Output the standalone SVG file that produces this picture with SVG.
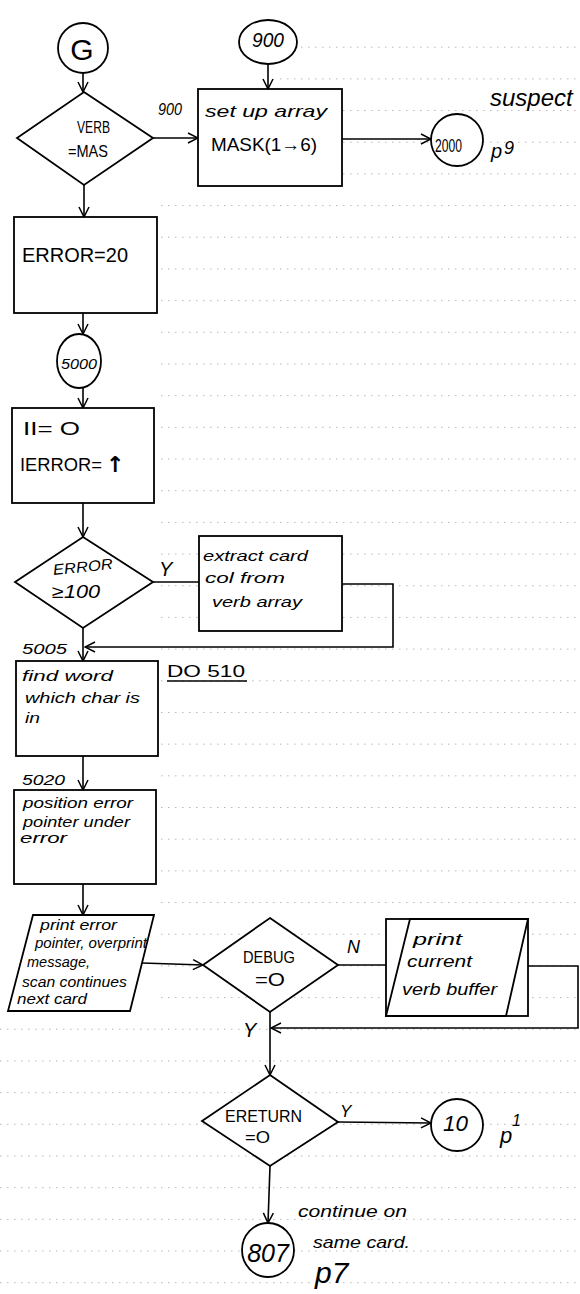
<svg xmlns="http://www.w3.org/2000/svg" width="580" height="1294" viewBox="0 0 580 1294">
<defs>
<style>
.s{fill:#fff;stroke:#000;stroke-width:1.8}
.c{fill:none;stroke:#000;stroke-width:1.6}
.t{font-family:"Liberation Sans","DejaVu Sans",sans-serif;fill:#000}
.h{font-family:"Liberation Sans","DejaVu Sans",sans-serif;font-style:italic;fill:#000}
</style>
<marker id="ah" viewBox="0 0 12 12" refX="11" refY="6" markerWidth="12" markerHeight="12" markerUnits="userSpaceOnUse" orient="auto">
<path d="M1,1 L11,6 L1,11" fill="none" stroke="#000" stroke-width="1.5"/>
</marker>
<pattern id="rule" x="0" y="15" width="7" height="31.68" patternUnits="userSpaceOnUse">
<rect x="0" y="0" width="1.5" height="1" fill="#b8b8b8"/>
</pattern>
</defs>
<rect width="580" height="1294" fill="#fff"/>
<g id="ruling">
<rect x="280" y="40" width="300" height="160" fill="url(#rule)"/>
<rect x="160" y="200" width="420" height="810" fill="url(#rule)"/>
<rect x="0" y="1010" width="580" height="284" fill="url(#rule)"/>
</g>
<g id="connectors">
<line class="c" x1="83" y1="73" x2="83" y2="92" marker-end="url(#ah)"/>
<line class="c" x1="153" y1="138" x2="198" y2="138" marker-end="url(#ah)"/>
<line class="c" x1="268" y1="64" x2="268" y2="89" marker-end="url(#ah)"/>
<line class="c" x1="342" y1="139" x2="431" y2="139" marker-end="url(#ah)"/>
<line class="c" x1="84" y1="185" x2="84" y2="217" marker-end="url(#ah)"/>
<line class="c" x1="83" y1="313" x2="83" y2="334" marker-end="url(#ah)"/>
<line class="c" x1="83" y1="388" x2="83" y2="408" marker-end="url(#ah)"/>
<line class="c" x1="83" y1="503" x2="83" y2="537" marker-end="url(#ah)"/>
<line class="c" x1="153" y1="582" x2="199" y2="582"/>
<polyline class="c" points="342,584 393,584 393,647 85,647" marker-end="url(#ah)"/>
<line class="c" x1="83" y1="628" x2="83" y2="661" marker-end="url(#ah)"/>
<line class="c" x1="83" y1="756" x2="83" y2="790" marker-end="url(#ah)"/>
<line class="c" x1="83" y1="884" x2="83" y2="915" marker-end="url(#ah)"/>
<line class="c" x1="142" y1="963" x2="203" y2="965" marker-end="url(#ah)"/>
<line class="c" x1="338" y1="965" x2="397" y2="965" marker-end="url(#ah)"/>
<polyline class="c" points="528,966 578,966 578,1028 271,1028" marker-end="url(#ah)"/>
<line class="c" x1="270" y1="1012" x2="270" y2="1075" marker-end="url(#ah)"/>
<line class="c" x1="338" y1="1122" x2="431" y2="1123" marker-end="url(#ah)"/>
<line class="c" x1="270" y1="1166" x2="268" y2="1223" marker-end="url(#ah)"/>
</g>
<g id="n_G">
<circle class="s" cx="83" cy="48" r="25"/>
<text class="t" x="82" y="60" font-size="30" text-anchor="middle">G</text>
</g>
<g id="n_900">
<ellipse class="s" cx="268" cy="42" rx="29" ry="22"/>
<text class="h" x="252" y="47" font-size="20" textLength="32" lengthAdjust="spacingAndGlyphs">900</text>
</g>
<g id="n_verb">
<polygon class="s" points="84,92 153,138 84,185 17,138"/>
<text class="t" x="77" y="133" font-size="17" textLength="33" lengthAdjust="spacingAndGlyphs">VERB</text>
<text class="t" x="68" y="157" font-size="17" textLength="40" lengthAdjust="spacingAndGlyphs">=MAS</text>
</g>
<g id="l_900">
<text class="h" x="158" y="115" font-size="16" textLength="24" lengthAdjust="spacingAndGlyphs">900</text>
</g>
<g id="n_setup">
<rect class="s" x="198" y="89" width="144" height="97"/>
<text class="h" x="205" y="117" font-size="17" textLength="122" lengthAdjust="spacingAndGlyphs">set up array</text>
<text class="t" x="211" y="151" font-size="19" textLength="106" lengthAdjust="spacingAndGlyphs">MASK(1→6)</text>
</g>
<g id="n_2000">
<circle class="s" cx="457" cy="140" r="26"/>
<text class="t" x="435" y="152" font-size="19" textLength="27" lengthAdjust="spacingAndGlyphs">2000</text>
</g>
<g id="l_p9">
<text class="h" x="491" y="158" font-size="20">p</text>
<text class="h" x="504" y="154" font-size="18">9</text>
</g>
<g id="l_suspect">
<text class="h" x="490" y="106" font-size="24">suspect</text>
</g>
<g id="n_error20">
<rect class="s" x="14" y="217" width="143" height="96"/>
<text class="t" x="22" y="262" font-size="21" textLength="106" lengthAdjust="spacingAndGlyphs">ERROR=20</text>
</g>
<g id="n_5000">
<ellipse class="s" cx="79" cy="361" rx="22" ry="27"/>
<text class="h" x="61" y="369" font-size="15" textLength="36" lengthAdjust="spacingAndGlyphs">5000</text>
</g>
<g id="n_init">
<rect class="s" x="12" y="408" width="142" height="95"/>
<text class="t" x="23" y="435" font-size="18" textLength="57" lengthAdjust="spacingAndGlyphs">II= O</text>
<text class="t" x="20" y="471" font-size="18" textLength="82" lengthAdjust="spacingAndGlyphs">IERROR=</text>
<text x="106" y="472" font-size="22" font-weight="bold" font-family="'DejaVu Sans',sans-serif">↑</text>
</g>
<g id="n_errtest">
<polygon class="s" points="83,537 153,582 83,628 15,582"/>
<text class="h" x="53" y="572" font-size="15" textLength="60" lengthAdjust="spacingAndGlyphs" transform="rotate(-6 83 568)">ERROR</text>
<text class="h" x="52" y="598" font-size="18" textLength="48" lengthAdjust="spacingAndGlyphs">≥100</text>
</g>
<g id="l_y1">
<text class="h" x="159" y="576" font-size="20">Y</text>
</g>
<g id="n_extract">
<rect class="s" x="199" y="536" width="143" height="95"/>
<text class="h" x="203" y="561" font-size="15" textLength="105" lengthAdjust="spacingAndGlyphs">extract card</text>
<text class="h" x="205" y="583" font-size="15" textLength="80" lengthAdjust="spacingAndGlyphs">col from</text>
<text class="h" x="212" y="607" font-size="15" textLength="90" lengthAdjust="spacingAndGlyphs">verb array</text>
</g>
<g id="l_5005">
<text class="h" x="22" y="654" font-size="15" textLength="45" lengthAdjust="spacingAndGlyphs">5005</text>
</g>
<g id="l_do510">
<text class="t" x="167" y="677" font-size="17" textLength="78" lengthAdjust="spacingAndGlyphs">DO 510</text>
<line x1="167" y1="681" x2="247" y2="681" stroke="#000" stroke-width="1.5"/>
</g>
<g id="n_find">
<rect class="s" x="16" y="661" width="142" height="95"/>
<text class="h" x="22" y="681" font-size="15" textLength="91" lengthAdjust="spacingAndGlyphs">find word</text>
<text class="h" x="25" y="703" font-size="15" textLength="115" lengthAdjust="spacingAndGlyphs">which char is</text>
<text class="h" x="25" y="723" font-size="15" textLength="15" lengthAdjust="spacingAndGlyphs">in</text>
</g>
<g id="l_5020">
<text class="h" x="22" y="785" font-size="15" textLength="43" lengthAdjust="spacingAndGlyphs">5020</text>
</g>
<g id="n_position">
<rect class="s" x="14" y="790" width="142" height="94"/>
<text class="h" x="23" y="808" font-size="14" textLength="110" lengthAdjust="spacingAndGlyphs">position error</text>
<text class="h" x="23" y="827" font-size="14" textLength="107" lengthAdjust="spacingAndGlyphs">pointer under</text>
<text class="h" x="20" y="843" font-size="14" textLength="47" lengthAdjust="spacingAndGlyphs">error</text>
</g>
<g id="n_printerr">
<polygon class="s" points="33,915 154,915 130,1011 8,1011"/>
<text class="h" x="40" y="930" font-size="14" textLength="77" lengthAdjust="spacingAndGlyphs">print error</text>
<text class="h" x="35" y="948" font-size="14" textLength="112" lengthAdjust="spacingAndGlyphs">pointer, overprint</text>
<text class="h" x="27" y="967" font-size="14" textLength="63" lengthAdjust="spacingAndGlyphs">message,</text>
<text class="h" x="22" y="987" font-size="14" textLength="105" lengthAdjust="spacingAndGlyphs">scan continues</text>
<text class="h" x="17" y="1004" font-size="14" textLength="70" lengthAdjust="spacingAndGlyphs">next card</text>
</g>
<g id="n_debug">
<polygon class="s" points="270,918 338,965 270,1012 203,965"/>
<text class="t" x="243" y="963" font-size="17" textLength="52" lengthAdjust="spacingAndGlyphs">DEBUG</text>
<text class="t" x="255" y="986" font-size="19" textLength="30" lengthAdjust="spacingAndGlyphs">=O</text>
</g>
<g id="l_n">
<text class="h" x="347" y="953" font-size="18">N</text>
</g>
<g id="n_printbuf">
<rect class="s" x="386" y="919" width="142" height="97"/>
<polygon class="s" points="410,919 528,919 506,1016 386,1016"/>
<text class="h" x="413" y="945" font-size="17" textLength="49" lengthAdjust="spacingAndGlyphs">print</text>
<text class="h" x="407" y="967" font-size="17" textLength="65" lengthAdjust="spacingAndGlyphs">current</text>
<text class="h" x="402" y="995" font-size="17" textLength="95" lengthAdjust="spacingAndGlyphs">verb buffer</text>
</g>
<g id="l_y2">
<text class="h" x="243" y="1037" font-size="20">Y</text>
</g>
<g id="n_ereturn">
<polygon class="s" points="270,1075 338,1122 270,1166 202,1121"/>
<text class="t" x="225" y="1122" font-size="17" textLength="77" lengthAdjust="spacingAndGlyphs">ERETURN</text>
<text class="t" x="245" y="1143" font-size="17" textLength="25" lengthAdjust="spacingAndGlyphs">=O</text>
</g>
<g id="l_y3">
<text class="h" x="340" y="1117" font-size="17">Y</text>
</g>
<g id="n_10">
<circle class="s" cx="457" cy="1125" r="26"/>
<text class="h" x="443" y="1131" font-size="22" textLength="25" lengthAdjust="spacingAndGlyphs">10</text>
</g>
<g id="l_p1">
<text class="h" x="500" y="1143" font-size="22">p</text>
<text class="h" x="512" y="1126" font-size="16">1</text>
</g>
<g id="n_807">
<ellipse class="s" cx="268" cy="1250" rx="26" ry="27"/>
<text class="h" x="268" y="1262" font-size="25" text-anchor="middle">807</text>
</g>
<g id="l_continue">
<text class="h" x="298" y="1217" font-size="17" textLength="109" lengthAdjust="spacingAndGlyphs">continue on</text>
<text class="h" x="313" y="1248" font-size="17" textLength="97" lengthAdjust="spacingAndGlyphs">same card.</text>
<text class="h" x="315" y="1283" font-size="30">p7</text>
</g>
</svg>
